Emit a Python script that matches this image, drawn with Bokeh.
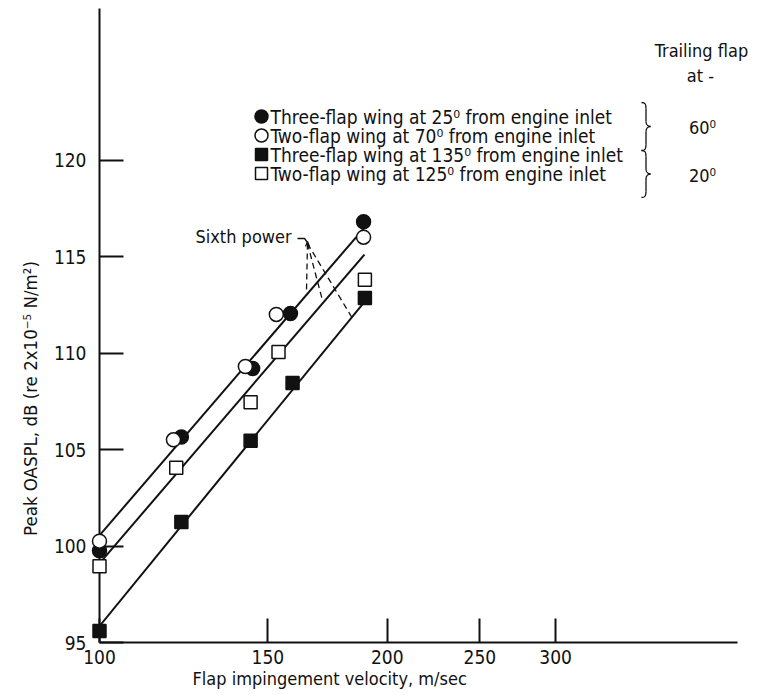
import math

from bokeh.plotting import figure
from bokeh.models import Range1d, FixedTicker, PrintfTickFormatter
from bokeh.core.properties import value
from bokeh.embed import file_html
from bokeh.resources import INLINE

# ---- measured data: flap impingement velocity (m/sec) vs peak OASPL (dB) ----
# Three-flap wing at 25 deg from engine inlet (trailing flap 60 deg)
vel_3f25 = [100, 121.8, 144.6, 158.4, 188.9]
spl_3f25 = [99.75, 105.65, 109.2, 112.05, 116.8]
# Two-flap wing at 70 deg from engine inlet (trailing flap 60 deg)
vel_2f70 = [100, 119.5, 142.1, 153.1, 188.9]
spl_2f70 = [100.25, 105.5, 109.3, 112.0, 116.0]
# Three-flap wing at 135 deg from engine inlet (trailing flap 20 deg)
vel_3f135 = [100, 121.8, 143.9, 159.2, 189.5]
spl_3f135 = [95.6, 101.25, 105.45, 108.45, 112.85]
# Two-flap wing at 125 deg from engine inlet (trailing flap 20 deg)
vel_2f125 = [100, 120.3, 143.9, 153.9, 189.5]
spl_2f125 = [98.95, 104.05, 107.45, 110.05, 113.8]

# sixth-power reference lines (end points)
fit_vel = [100, 189.3]
fit_upper = [100.55, 116.5]
fit_middle = [99.1, 115.1]
fit_lower = [95.85, 112.65]

x_ticks = [100, 150, 200, 250, 300]
y_ticks = [95, 100, 105, 110, 115, 120]

legend_labels = [
    "Three-flap wing at 25\u2070 from engine inlet",
    "Two-flap wing at 70\u2070 from engine inlet",
    "Three-flap wing at 135\u2070 from engine inlet",
    "Two-flap wing at 125\u2070 from engine inlet",
]

# ---- layout of the plotting frame (pixels) ----
W, H = 758, 695
FL, FR, FT, FB = 99, 737, 8, 642
PX_PER_DECADE = 956.0
PX_PER_DB = 19.3
X0, Y0 = 100.0, 95.0


def dx(px):
    return X0 * 10 ** ((px - FL) / PX_PER_DECADE)


def dy(py):
    return Y0 + (FB - py) / PX_PER_DB


FONT = "DejaVu Sans Condensed"
INK = "#111111"

p = figure(width=W, height=H, x_axis_type="log",
           x_range=Range1d(X0, dx(FR)), y_range=Range1d(Y0, dy(FT)),
           output_backend="svg", toolbar_location=None,
           min_border_left=FL, min_border_right=W - FR,
           min_border_top=FT, min_border_bottom=H - FB)
p.outline_line_color = None
p.grid.visible = False
p.background_fill_color = "white"
p.border_fill_color = "white"

for ax in (p.xaxis[0], p.yaxis[0]):
    ax.axis_line_width = 2
    ax.axis_line_color = INK
    ax.major_tick_line_width = 2
    ax.major_tick_line_color = INK
    ax.major_tick_in = 24
    ax.major_tick_out = 0
    ax.minor_tick_line_color = None
    ax.major_label_text_font = FONT
    ax.major_label_text_font_size = "19px"
    ax.major_label_text_color = INK

xa = p.xaxis[0]
xa.ticker = FixedTicker(ticks=x_ticks)
xa.formatter = PrintfTickFormatter(format="%d")
xa.major_label_standoff = 7

ya = p.yaxis[0]
ya.ticker = FixedTicker(ticks=y_ticks)
ya.formatter = PrintfTickFormatter(format="%d")
ya.major_label_standoff = 13


def put_text(px, py, txt, size, align="left", angle=0.0):
    p.text(x=[dx(px)], y=[dy(py)], text=[txt], text_font=value(FONT),
           text_font_size=value(size), text_color=INK, text_align=align,
           text_baseline="middle", angle=angle, level="overlay")


# axis titles
put_text(192, 678, "Flap impingement velocity, m/sec", "18px")
put_text(30, 398, "Peak OASPL, dB (re 2x10\u207b\u2075 N/m\u00b2)", "18.5px",
         align="center", angle=math.pi / 2)

# sixth-power lines
for fy in (fit_upper, fit_middle, fit_lower):
    p.line(fit_vel, fy, line_color=INK, line_width=2)

# data points (overlay level keeps the points on the axis whole)
MS = 14
p.scatter(vel_3f25, spl_3f25, marker="circle", size=MS, fill_color=INK,
          line_color=INK, line_width=1.5, level="overlay")
p.scatter(vel_2f70, spl_2f70, marker="circle", size=MS, fill_color="white",
          line_color=INK, line_width=1.5, level="overlay")
p.scatter(vel_3f135, spl_3f135, marker="square", size=MS - 1, fill_color=INK,
          line_color=INK, line_width=1.5, level="overlay")
p.scatter(vel_2f125, spl_2f125, marker="square", size=MS - 1, fill_color="white",
          line_color=INK, line_width=1.5, level="overlay")

# legend
leg_rows = [116, 135, 154, 173]
leg_markers = [("circle", INK), ("circle", "white"), ("square", INK), ("square", "white")]
for row, (mk, fc), txt in zip(leg_rows, leg_markers, legend_labels):
    p.scatter([dx(261)], [dy(row)], marker=mk, size=13 if mk == "circle" else 12,
              fill_color=fc, line_color=INK, line_width=1.5, level="overlay")
    put_text(270, row, txt, "19px")


def brace(top, bottom, xl=641, xm=645.5, xt=650):
    """Right-facing curly brace between two pixel rows."""
    mid = (top + bottom) / 2.0
    segs = [
        ((xl, top), (xm, top + 6), (xm - 0.5, top), (xm, top + 2)),
        ((xm, top + 6), (xm, mid - 5), (xm, top + 6), (xm, mid - 5)),
        ((xm, mid - 5), (xt, mid), (xm, mid - 1.5), (xt - 2, mid)),
        ((xt, mid), (xm, mid + 5), (xt - 2, mid), (xm, mid + 1.5)),
        ((xm, mid + 5), (xm, bottom - 6), (xm, mid + 5), (xm, bottom - 6)),
        ((xm, bottom - 6), (xl, bottom), (xm, bottom - 2), (xm - 0.5, bottom)),
    ]
    p.bezier(x0=[dx(s[0][0]) for s in segs], y0=[dy(s[0][1]) for s in segs],
             x1=[dx(s[1][0]) for s in segs], y1=[dy(s[1][1]) for s in segs],
             cx0=[dx(s[2][0]) for s in segs], cy0=[dy(s[2][1]) for s in segs],
             cx1=[dx(s[3][0]) for s in segs], cy1=[dy(s[3][1]) for s in segs],
             line_color=INK, line_width=1.3, level="overlay")


brace(102, 150)
brace(150, 197)

put_text(701, 50, "Trailing flap", "18px", align="center")
put_text(700, 75, "at -", "18px", align="center")
put_text(702, 127, "60\u2070", "18px", align="center")
put_text(702, 175, "20\u2070", "18px", align="center")

# "Sixth power" callout with dashed leaders to the three lines
put_text(195, 236, "Sixth power", "18px")
p.line([dx(297), dx(304), dx(307)], [dy(238), dy(238), dy(242)],
       line_color=INK, line_width=1.3, level="overlay")
p.line([dx(305), dx(307), dx(309)], [dy(246), dy(241), dy(246)],
       line_color=INK, line_width=1.2, level="overlay")
apex_x, apex_y = 307, 243
for ex, ey in [(306, 290), (322, 300), (352, 318)]:
    p.line([dx(apex_x), dx(ex)], [dy(apex_y), dy(ey)], line_color=INK,
           line_width=1.3, line_dash="6 4", level="overlay")

open("out.html", "w").write(file_html(p, INLINE))
